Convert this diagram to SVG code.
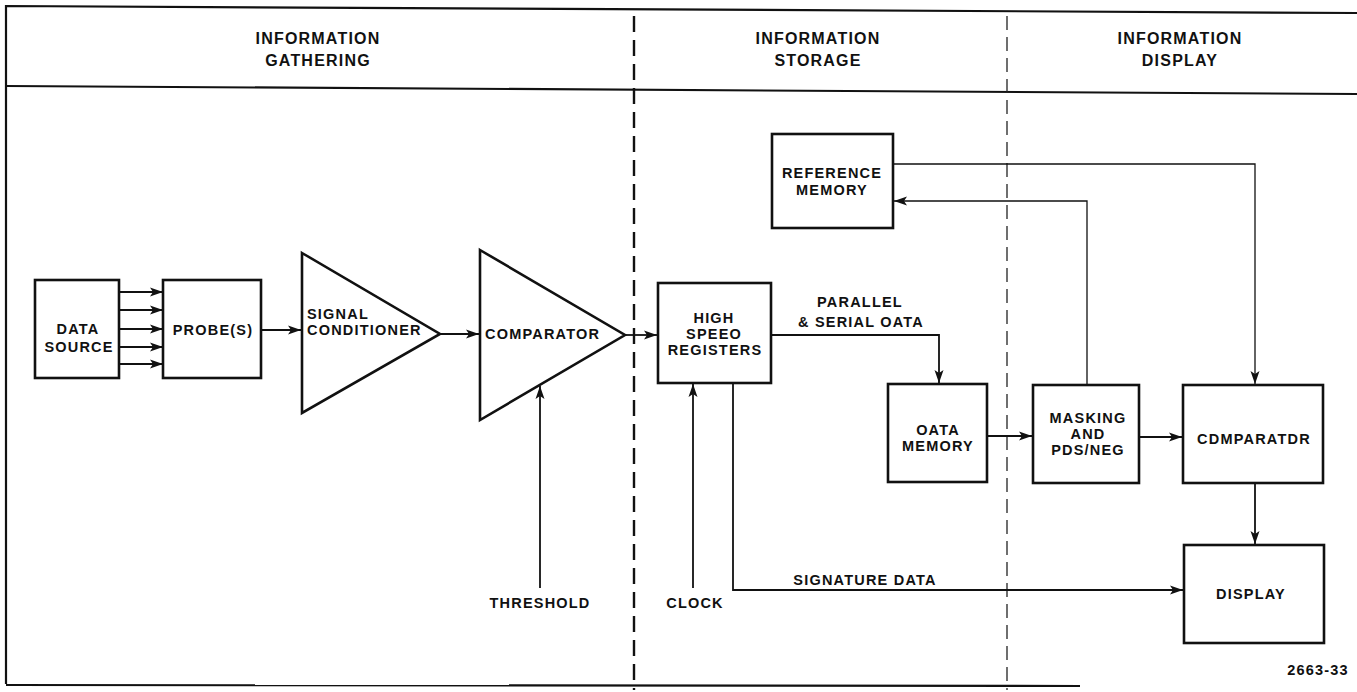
<svg xmlns="http://www.w3.org/2000/svg" width="1357" height="692" viewBox="0 0 1357 692">
<defs>
<style>
.frame{fill:none;stroke:#111;stroke-width:2.2}
.div1{stroke:#111;stroke-width:2.4;stroke-dasharray:16,8}
.div2{stroke:#222;stroke-width:1.3;stroke-dasharray:14,7}
.box{fill:#fff;stroke:#111;stroke-width:2.6}
.tri{fill:#fff;stroke:#111;stroke-width:2.6;stroke-linejoin:miter}
.c{fill:none;stroke:#111;stroke-width:1.8}
.ct{fill:none;stroke:#111;stroke-width:1.3}
.a{marker-end:url(#ah)}
text{font-family:"Liberation Sans",Arial,sans-serif;font-weight:bold;fill:#111}
.h{font-size:16px;letter-spacing:1.2px;text-anchor:middle}
.l{font-size:14.5px;letter-spacing:1.2px;text-anchor:middle}
.ll{font-size:14.5px;letter-spacing:1.2px}
</style>
<marker id="ah" markerUnits="userSpaceOnUse" markerWidth="14" markerHeight="10" refX="13" refY="5" orient="auto">
<path d="M0,0.5 L13,5 L0,9.5 L3,5 z" fill="#111"/>
</marker>
</defs>
<rect width="1357" height="692" fill="#fff"/>
<g id="frame">
<path class="frame" d="M6,684 L6,6 L1357,13"/>
<path class="frame" d="M6,86 L1357,94"/>
<path class="frame" d="M6,685 L1080,686"/>
<line class="div1" x1="634" y1="16" x2="634" y2="690"/>
<line class="div2" x1="1007" y1="16" x2="1007" y2="690"/>
</g>
<g id="headers">
<text class="h" x="318" y="44">INFORMATION</text>
<text class="h" x="318" y="66">GATHERING</text>
<text class="h" x="818" y="44">INFORMATION</text>
<text class="h" x="818" y="66">STORAGE</text>
<text class="h" x="1180" y="44">INFORMATION</text>
<text class="h" x="1180" y="66">DISPLAY</text>
</g>
<g id="connectors">
<line class="c a" x1="119" y1="292" x2="163" y2="292"/>
<line class="c a" x1="119" y1="310" x2="163" y2="310"/>
<line class="c a" x1="119" y1="329" x2="163" y2="329"/>
<line class="c a" x1="119" y1="347" x2="163" y2="347"/>
<line class="c a" x1="119" y1="364" x2="163" y2="364"/>
<line class="c a" x1="261" y1="330" x2="301" y2="330"/>
<line class="c a" x1="440" y1="334" x2="479" y2="334"/>
<line class="c a" x1="625" y1="335" x2="657" y2="335"/>
<line class="c a" x1="540" y1="588" x2="540" y2="386"/>
<line class="c a" x1="693" y1="588" x2="693" y2="384"/>
<polyline class="c a" points="733,383 733,590 1183,590"/>
<polyline class="c a" points="771,335 939,335 939,383"/>
<line class="c a" x1="987" y1="436" x2="1032" y2="436"/>
<line class="c a" x1="1139" y1="437" x2="1182" y2="437"/>
<line class="c a" x1="1255" y1="483" x2="1255" y2="544"/>
<polyline class="ct a" points="893,164 1255,164 1255,384"/>
<polyline class="ct a" points="1087,385 1087,201 894,201"/>
</g>
<g id="data-source">
<rect class="box" x="35" y="280" width="84" height="98"/>
<text class="l" x="78" y="334">DATA</text>
<text class="l" x="79" y="352">SOURCE</text>
</g>
<g id="probes">
<rect class="box" x="163" y="280" width="98" height="98"/>
<text class="l" x="213" y="335">PROBE(S)</text>
</g>
<g id="signal-conditioner">
<polygon class="tri" points="302,253 440,334 302,413"/>
<text class="ll" x="307" y="319">SIGNAL</text>
<text class="ll" x="307" y="335">CONDITIONER</text>
</g>
<g id="comparator-1">
<polygon class="tri" points="480,250 625,335 480,420"/>
<text class="ll" x="485" y="339">COMPARATOR</text>
</g>
<g id="threshold-label"><text class="l" x="540" y="608">THRESHOLD</text></g>
<g id="clock-label"><text class="l" x="695" y="608">CLOCK</text></g>
<g id="registers">
<rect class="box" x="658" y="283" width="113" height="100"/>
<text class="l" x="714" y="323">HIGH</text>
<text class="l" x="714" y="339">SPEEO</text>
<text class="l" x="715" y="355">REGISTERS</text>
</g>
<g id="parallel-label">
<text class="l" x="860" y="307">PARALLEL</text>
<text class="l" x="861" y="327">&amp; SERIAL OATA</text>
</g>
<g id="signature-label"><text class="l" x="865" y="585">SIGNATURE DATA</text></g>
<g id="reference-memory">
<rect class="box" x="772" y="134" width="121" height="94"/>
<text class="l" x="832" y="178">REFERENCE</text>
<text class="l" x="832" y="195">MEMORY</text>
</g>
<g id="data-memory">
<rect class="box" x="888" y="384" width="99" height="98"/>
<text class="l" x="938" y="435">OATA</text>
<text class="l" x="938" y="451">MEMORY</text>
</g>
<g id="masking">
<rect class="box" x="1033" y="385" width="106" height="98"/>
<text class="l" x="1088" y="423">MASKING</text>
<text class="l" x="1088" y="439">AND</text>
<text class="l" x="1088" y="455">PDS/NEG</text>
</g>
<g id="comparator-2">
<rect class="box" x="1183" y="385" width="140" height="98"/>
<text class="l" x="1254" y="444">CDMPARATDR</text>
</g>
<g id="display">
<rect class="box" x="1184" y="545" width="140" height="98"/>
<text class="l" x="1251" y="599">DISPLAY</text>
</g>
<g id="figure-number"><text class="l" x="1318" y="675">2663-33</text></g>
</svg>
